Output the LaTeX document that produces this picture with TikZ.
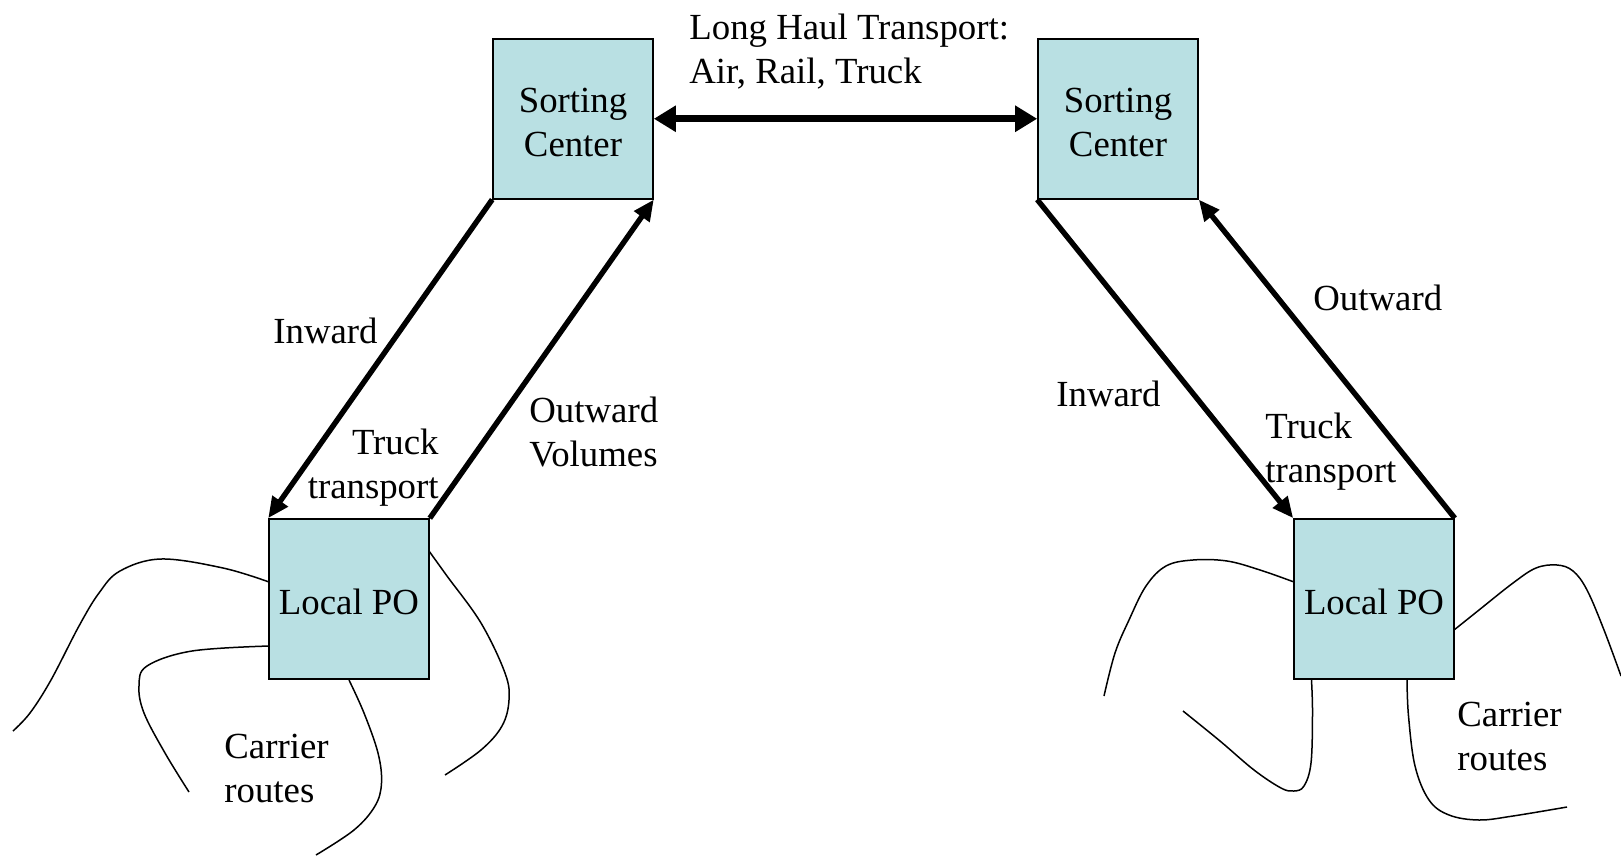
\documentclass[tikz,border=0pt]{standalone}
\usepackage{fontspec}
\setmainfont{Liberation Serif}
\usetikzlibrary{arrows.meta}
\definecolor{boxfill}{RGB}{185,224,227}
\newcommand\lblfont{\fontsize{18.4pt}{22pt}\selectfont}
\begin{document}
\begin{tikzpicture}[x=0.5pt,y=-0.5pt,
  box/.style={draw=black, fill=boxfill, line width=0.8pt, minimum width=80pt,
    minimum height=80pt, inner sep=0pt},
  lbl/.style={inner sep=0pt, font=\lblfont},
  boxtext/.style={lbl, align=center},
  flow/.style={line width=2.7pt, -{Triangle[length=10.5pt,width=9pt]}},
  haul/.style={line width=3.6pt, {Triangle[length=11pt,width=12.5pt]}-{Triangle[length=11pt,width=12.5pt]}},
  route/.style={line width=0.75pt, smooth, tension=0.6},
]
\useasboundingbox (0,0) rectangle (1621,856);

% sorting centres and local post offices
\node[box] (scl) at (573,118.75) {};
\node[box] (scr) at (1118,118.75) {};
\node[box] (pol) at (349,599) {};
\node[box] (por) at (1374,599) {};
\node[boxtext] (scltxt) at ([yshift=-2pt]scl.center) {Sorting\\Center};
\node[boxtext] (scrtxt) at ([yshift=-2pt]scr.center) {Sorting\\Center};
\node[boxtext] (poltxt) at ([yshift=-1.6pt]pol.center) {Local PO};
\node[boxtext] (portxt) at ([yshift=-1.6pt]por.center) {Local PO};

% long haul link
\draw[haul] (scl.east) -- (scr.west);
\node[lbl, align=left, anchor=west] (haullbl) at (689,51.5) {Long Haul Transport:\\Air, Rail, Truck};

% truck transport, left side
\draw[flow] (scl.south west) -- (pol.north west);
\draw[flow] (pol.north east) -- (scl.south east);
\node[lbl, anchor=west] (inl) at (273,331) {Inward};
\node[lbl, align=right, anchor=east] (trl) at (439,468) {Truck\\transport};
\node[lbl, align=left, anchor=west] (outl) at (529,432) {Outward\\Volumes};

% truck transport, right side
\draw[flow] (scr.south west) -- (por.north west);
\draw[flow] (por.north east) -- (scr.south east);
\node[lbl, anchor=west] (outr) at (1313,298) {Outward};
\node[lbl, anchor=west] (inr) at (1056,394) {Inward};
\node[lbl, align=left, anchor=west] (trr) at (1265,452) {Truck\\transport};

% carrier routes, left post office
\draw[route] plot coordinates {(269,582) (223,568) (161,559) (120,571) (99,593) (79,626) (51,680) (30,713) (13,731)};
\draw[route] plot coordinates {(269,646) (192,651) (147,666) (139,686) (144,713) (165,753) (189,792)};
\draw[route] plot coordinates {(349,680) (364,713) (378,753) (381.5,783) (375,806) (354,830) (316,855)};
\draw[route] plot coordinates {(429,551) (447,576) (481,623) (505,673) (509,700) (502,726) (481,750) (445,775)};
\node[lbl, align=left, anchor=west] (crl) at (224,768) {Carrier\\routes};

% carrier routes, right post office
\draw[route] plot coordinates {(1294,582) (1260,570) (1227,561) (1193,560) (1166,566) (1146,586) (1129,620) (1115,653) (1104,696)};
\draw[route] plot coordinates {(1311.5,680) (1312.5,713) (1311,763) (1304,786) (1294,791) (1281,788) (1254,770) (1220,741) (1183,711)};
\draw[route] plot coordinates {(1407,680) (1408.5,716) (1415,766) (1429,800) (1449,815) (1479,820) (1513,816) (1567,807)};
\draw[route] plot coordinates {(1454,630) (1479,610) (1513,583) (1536,568) (1557,565) (1573,571) (1587,590) (1604,630) (1621,676)};
\node[lbl, align=left, anchor=west] (crr) at (1457,736) {Carrier\\routes};
\end{tikzpicture}
\end{document}
